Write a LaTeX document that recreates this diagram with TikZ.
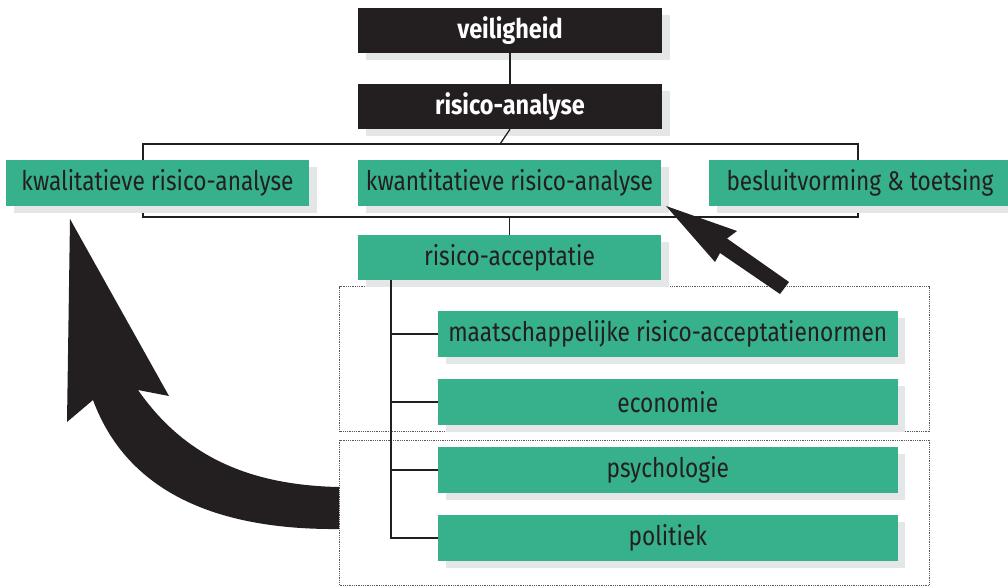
\documentclass[tikz,border=0pt]{standalone}
\usepackage{fontspec}
\setmainfont{Fira Sans}[FakeStretch=0.84, BoldFeatures={FakeStretch=0.87}]
\usetikzlibrary{shadows}
\definecolor{groen}{RGB}{55,176,140}
\definecolor{schaduwgrijs}{RGB}{229,230,232}
\definecolor{zwart}{RGB}{35,31,32}
\begin{document}
\begin{tikzpicture}[x=1pt,y=-1pt,
  schaduwstijl/.style={general shadow={shadow xshift=7.5pt, shadow yshift=-7pt, fill=schaduwgrijs}},
  box/.style={schaduwstijl, fill=groen, text=zwart, inner sep=0pt, minimum height=46pt, font=\fontsize{27}{30}\selectfont},
  donker/.style={schaduwstijl, fill=zwart, text=white, inner sep=0pt, minimum height=45pt, minimum width=304pt, font=\fontsize{27}{30}\selectfont\bfseries},
  lijn/.style={draw=zwart, line width=1.3pt},
  kader/.style={draw=zwart!75, densely dotted, line width=0.8pt, inner sep=0pt},
  pijl/.style={fill=zwart}]
\useasboundingbox (0,0) rectangle (1008,587);
% frames
\node[lijn, inner sep=0pt, minimum width=715pt, minimum height=73pt] (groep) at (500.5,180.5) {};
\node[kader, minimum width=590pt, minimum height=145pt] (kader1) at (634.5,359.2) {};
\node[kader, minimum width=590pt, minimum height=145pt] (kader2) at (634.5,512.5) {};
% boxes
\node[donker] (veil) at (510,30.5) {veiligheid};
\node[donker] (ra) at (510,106.5) {risico-analyse};
\node[box, minimum width=303pt] (kwal) at (157.5,183) {kwalitatieve risico-analyse};
\node[box, minimum width=303pt] (kwant) at (509.5,183) {kwantitatieve risico-analyse};
\node[box, minimum width=302pt] (besl) at (860,183) {besluitvorming \& toetsing};
\node[box, minimum width=303pt, minimum height=45pt] (acc) at (509.5,257.5) {risico-acceptatie};
\node[box, minimum width=459.5pt] (maat) at (667.75,334) {maatschappelijke risico-acceptatienormen};
\node[box, minimum width=459.5pt] (econ) at (667.75,402) {economie};
\node[box, minimum width=459.5pt] (psych) at (667.75,470) {psychologie};
\node[box, minimum width=459.5pt] (pol) at (667.75,538) {politiek};
% connectors
\draw[lijn] (veil.south) -- (ra.north);
\draw[lijn] (ra.south) -- (groep.north);
\draw[lijn] (groep.south -| acc.north) -- (acc.north);
\coordinate (stam) at (391,280);
\draw[lijn] (stam) |- (pol.west);
\foreach \n in {maat,econ,psych} \draw[lijn] (stam |- \n.west) -- (\n.west);
% arrows
\fill[pijl] (666,206) -- (737,231) -- (727,238.5) -- (789,282) -- (780,294) -- (720,253) -- (715,262) -- cycle;
\fill[pijl] (70,219) -- (169,396) -- (138,390) .. controls (180,450) and (240,485) .. (339,487) -- (339,529) .. controls (230,530) and (130,500) .. (93,400) -- (67,422) -- cycle;
\end{tikzpicture}
\end{document}
